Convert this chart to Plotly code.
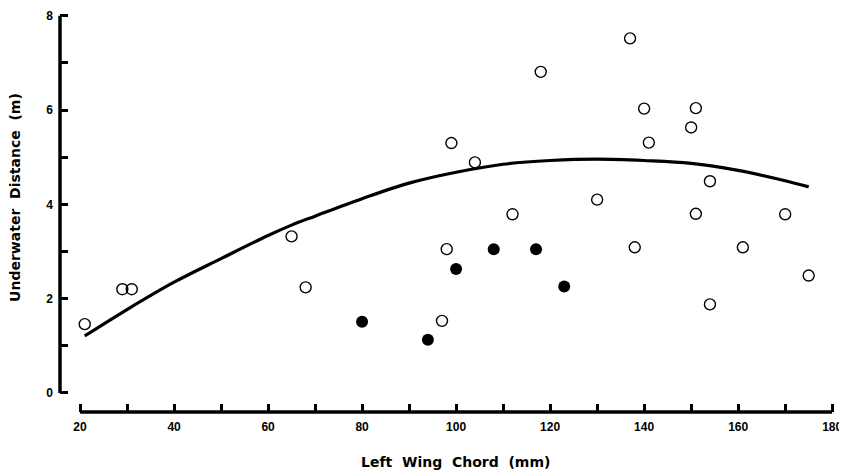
import plotly.graph_objects as go

# Open circles
open_x = [21, 29, 31, 65, 68, 97, 98, 99, 104, 112, 118, 130, 137, 138, 140, 141,
          150, 151, 151, 154, 154, 161, 170, 175]
open_y = [1.46, 2.2, 2.2, 3.32, 2.24, 1.53, 3.05, 5.3, 4.89, 3.79, 6.81, 4.1, 7.52, 3.09,
          6.03, 5.31, 5.63, 6.04, 3.8, 4.49, 1.88, 3.09, 3.79, 2.49]

# Filled circles
filled_x = [80, 94, 100, 108, 117, 123]
filled_y = [1.51, 1.13, 2.63, 3.05, 3.05, 2.26]

# Fitted curve
curve_x = [21, 30, 40, 50, 60, 65, 70, 80, 90, 100, 110, 120, 130, 140, 150, 160, 170, 175]
curve_y = [1.21, 1.77, 2.35, 2.85, 3.34, 3.56, 3.75, 4.12, 4.45, 4.68, 4.85, 4.93,
           4.96, 4.93, 4.87, 4.72, 4.5, 4.37]

x_ticks = [20, 30, 40, 50, 60, 70, 80, 90, 100, 110, 120, 130, 140, 150, 160, 170, 180]
x_ticktext = ["20", "", "40", "", "60", "", "80", "", "100", "", "120", "", "140", "",
              "160", "", "180"]
y_ticks = [0, 1, 2, 3, 4, 5, 6, 7, 8]
y_ticktext = ["0", "", "2", "", "4", "", "6", "", "8"]

x_title = "Left  Wing  Chord  (mm)"
y_title = "Underwater  Distance  (m)"

font_family = "Liberation Sans, Arial, sans-serif"
title_family = "DejaVu Sans, Liberation Sans, sans-serif"

fig = go.Figure()
fig.add_trace(go.Scatter(x=curve_x, y=curve_y, mode="lines",
                         line=dict(color="black", width=3.2, shape="spline"),
                         showlegend=False, hoverinfo="skip"))
fig.add_trace(go.Scatter(x=open_x, y=open_y, mode="markers",
                         marker=dict(symbol="circle-open", size=11, color="black",
                                     line=dict(width=1.4, color="black")),
                         showlegend=False))
fig.add_trace(go.Scatter(x=filled_x, y=filled_y, mode="markers",
                         marker=dict(symbol="circle", size=12, color="black"),
                         showlegend=False))

# detached axis lines
fig.add_shape(type="line", xref="x", yref="paper", x0=20, x1=180, y0=0, y1=0,
              line=dict(color="black", width=3.5))
fig.add_shape(type="line", xref="paper", yref="y", x0=0, x1=0, y0=0, y1=8,
              line=dict(color="black", width=3.5))

# axis titles
fig.add_annotation(text=x_title, xref="paper", yref="paper", x=0.51, y=-0.1247,
                   showarrow=False, xanchor="center", yanchor="middle",
                   font=dict(size=14, family=title_family, weight="bold"))
fig.add_annotation(text=y_title, xref="paper", yref="paper", x=-0.058, y=0.534,
                   showarrow=False, xanchor="center", yanchor="middle", textangle=-90,
                   font=dict(size=14, family=title_family, weight="bold"))

fig.update_layout(
    width=839, height=464,
    margin=dict(l=52, r=12, t=3, b=60),
    plot_bgcolor="white", paper_bgcolor="white",
    font=dict(family=font_family, color="black", size=12),
    xaxis=dict(range=[15.74, 180.6], showline=False, showgrid=False, zeroline=False,
               automargin=False,
               tickmode="array", tickvals=x_ticks, ticktext=x_ticktext,
               ticks="inside", ticklen=8, tickwidth=2.5, tickcolor="black",
               ticklabelstandoff=6,
               tickfont=dict(size=12, family=font_family, weight="bold")),
    yaxis=dict(range=[-0.403, 8.1], showline=False, showgrid=False, zeroline=False,
               automargin=False,
               tickmode="array", tickvals=y_ticks, ticktext=y_ticktext,
               ticks="inside", ticklen=8, tickwidth=2.5, tickcolor="black",
               ticklabelstandoff=6,
               tickfont=dict(size=12, family=font_family, weight="bold")),
)

fig.write_html("out.html")
